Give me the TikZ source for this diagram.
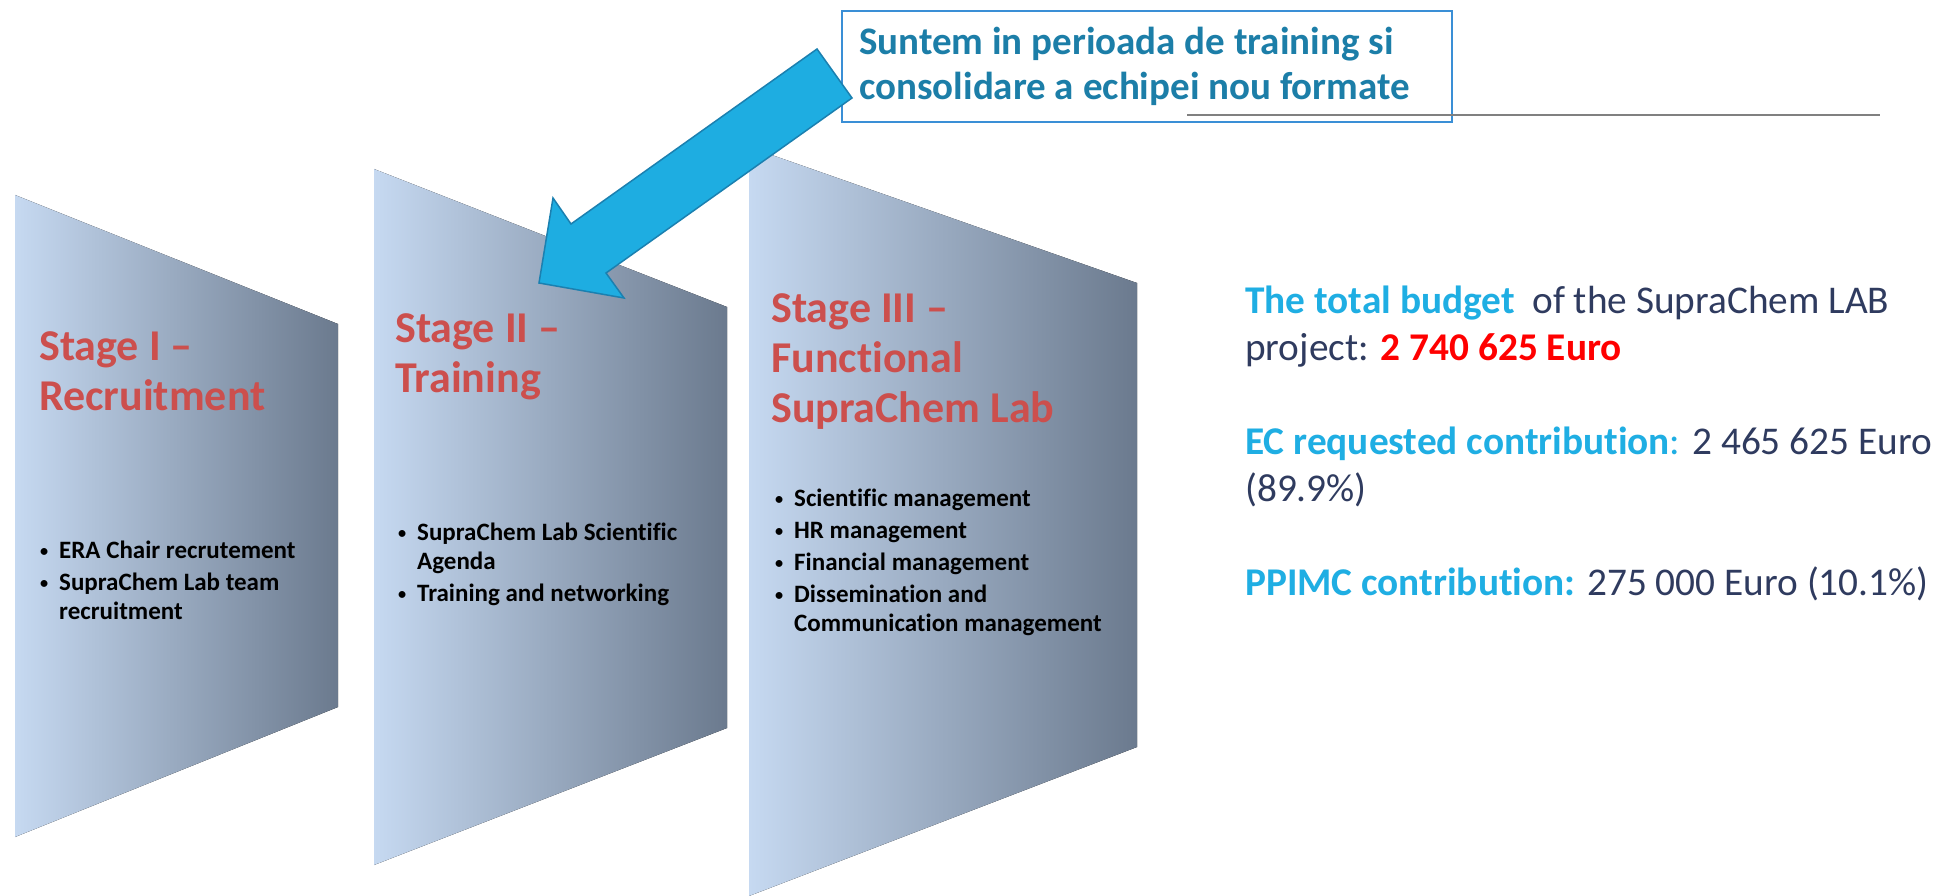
\documentclass[tikz,border=0pt]{standalone}
\usepackage{fontspec}
\setmainfont{Carlito}[Ligatures=CommonOff]
\usepackage{tikz}

\definecolor{panelLight}{HTML}{C6D9F1}
\definecolor{panelDark}{HTML}{6B7A8E}
\definecolor{stageRed}{HTML}{CC4F4D}
\definecolor{arrowFill}{HTML}{1EADE1}
\definecolor{arrowLine}{HTML}{1B80B0}
\definecolor{noteText}{HTML}{1C7EA8}
\definecolor{noteLine}{HTML}{3A8FD6}
\definecolor{budgetBlue}{HTML}{1FAEE3}
\definecolor{budgetNavy}{HTML}{2F3B5F}
\definecolor{euroRed}{HTML}{FF0000}

\tikzset{
  panel/.style={left color=panelLight, right color=panelDark},
  stagetitle/.style={anchor=base west, inner sep=0pt, text=stageRed, font=\fontsize{44}{50}\selectfont\bfseries},
  stageitems/.style={anchor=base west, inner sep=0pt, text=black, font=\fontsize{25}{29}\selectfont\bfseries},
  budgettext/.style={anchor=base west, inner sep=0pt, text=budgetNavy, font=\fontsize{39.3}{47}\selectfont},
  notetext/.style={anchor=base west, inner sep=0pt, text=noteText, font=\fontsize{39}{45}\selectfont\bfseries}
}
\newcommand{\itm}{\makebox[19pt][l]{\raisebox{2pt}{\scalebox{0.65}{\textbullet}}}}
\newcommand{\wrp}{\hspace*{19pt}}

\begin{document}
\begin{tikzpicture}[x=1pt,y=-1pt]
            \useasboundingbox (0,0) rectangle (1938,896);
            \fill[white] (0,0) rectangle (1938,896);
            \fill[panel] (15,195) -- (338,324) -- (338,707) -- (15,837) -- cycle;
            \fill[panel] (374,169) -- (727,307) -- (727,728) -- (374,865) -- cycle;
            \fill[panel] (749,147) -- (1137,283) -- (1137,747) -- (749,896) -- cycle;
            \node[stagetitle] (st1) at (39,360) {\begin{tabular}[t]{@{}l@{}}Stage I –\\Recruitment\end{tabular}};
            \node[stagetitle] (st2) at (395,342) {\begin{tabular}[t]{@{}l@{}}Stage II –\\Training\end{tabular}};
            \node[stagetitle] (st3) at (771,322) {\begin{tabular}[t]{@{}l@{}}Stage III –\\Functional\\SupraChem Lab\end{tabular}};
            \node[stageitems] (it1) at (40,558) {\begin{tabular}[t]{@{}l@{}}\itm ERA Chair recrutement\\[3pt]\itm SupraChem Lab team\\\wrp recruitment\end{tabular}};
            \node[stageitems] (it2) at (398,540) {\begin{tabular}[t]{@{}l@{}}\itm SupraChem Lab Scientific\\\wrp Agenda\\[3pt]\itm Training and networking\end{tabular}};
            \node[stageitems] (it3) at (775,506) {\begin{tabular}[t]{@{}l@{}}\itm Scientific management\\[3pt]\itm HR management\\[3pt]\itm Financial management\\[3pt]\itm Dissemination and\\\wrp Communication management\end{tabular}};
            \draw[noteLine, line width=1.5pt] (842,11) rectangle (1452,122);
            \node[notetext] (note) at (859,55) {\begin{tabular}[t]{@{}l@{}}Suntem in perioada de training si\\consolidare a echipei nou formate\end{tabular}};
            \draw[gray, line width=2pt] (1187,115) -- (1880,115);
            \filldraw[fill=arrowFill, draw=arrowLine, line width=1.5pt, line join=miter] (539,283) -- (624,298) -- (606,273) -- (852,98) -- (817,49) -- (571,224) -- (553,198) -- cycle;
            \node[budgettext] (budget) at (1245,313) {\begin{tabular}[t]{@{}l@{}}\textcolor{budgetBlue}{\bfseries The total budget}\ \ of the SupraChem LAB\\project: \textcolor{euroRed}{\bfseries 2 740 625 Euro}\\ \\\textcolor{budgetBlue}{\bfseries EC requested contribution}\textcolor{budgetBlue}{:} 2 465 625 Euro\\(89.9\%)\\ \\\textcolor{budgetBlue}{\bfseries PPIMC contribution:} 275 000 Euro (10.1\%)\end{tabular}};
\end{tikzpicture}
\end{document}
